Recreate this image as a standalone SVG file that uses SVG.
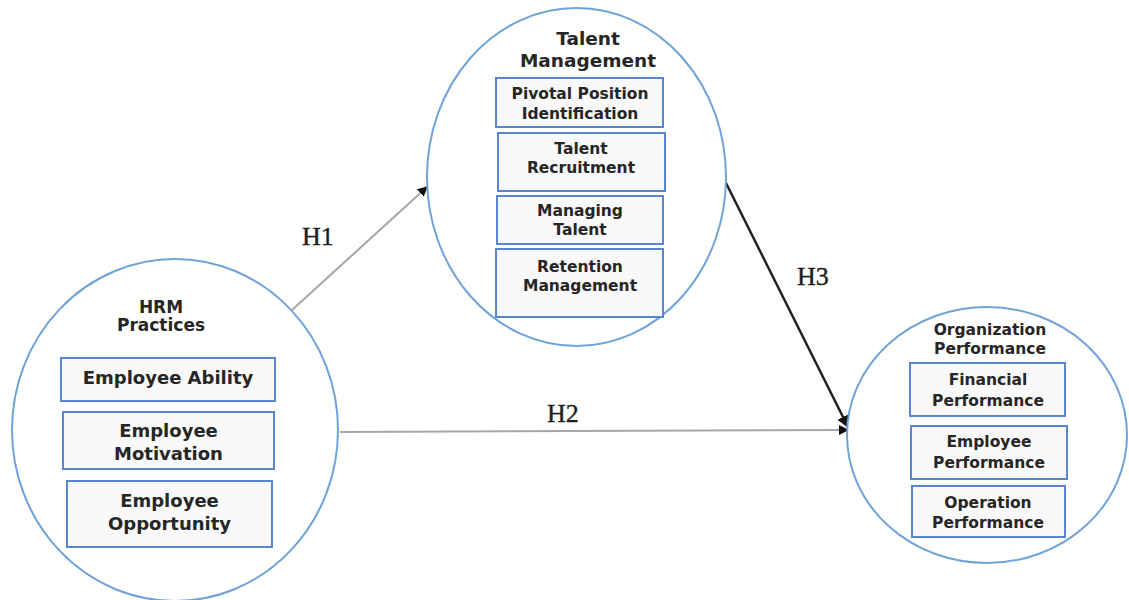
<svg xmlns="http://www.w3.org/2000/svg" width="1129" height="600" viewBox="0 0 1129 600">
  <style>
    .ring { fill: #ffffff; stroke: #6fa3d8; stroke-width: 2; }
    .box { fill: #f9f9f9; stroke: #5a86cc; stroke-width: 2; }
    .ttl { font-family: "DejaVu Sans", Verdana, sans-serif; font-weight: bold; fill: #262626; text-anchor: middle; }
    .itm { font-family: "DejaVu Sans", Verdana, sans-serif; font-weight: bold; fill: #262626; text-anchor: middle; }
    .hyp { font-family: "Liberation Serif", "Times New Roman", serif; font-size: 26px; fill: #1f1f1f; stroke: #1f1f1f; stroke-width: 0.4; }
    .thin { stroke: #a6a6a6; stroke-width: 2; fill: none; }
    .bold { stroke: #222222; stroke-width: 2.5; fill: none; }
  </style>
  <defs>
    <marker id="tip" viewBox="0 0 10 10" refX="9" refY="5" markerWidth="10" markerHeight="10" markerUnits="userSpaceOnUse" orient="auto">
      <path d="M0,0 L10,5 L0,10 z" fill="#111111"/>
    </marker>
    <marker id="tipBold" viewBox="0 0 10 10" refX="9" refY="5" markerWidth="5" markerHeight="5" orient="auto">
      <path d="M0,0 L10,5 L0,10 z" fill="#111111"/>
    </marker>
  </defs>

  <rect width="1129" height="600" fill="#ffffff"/>

  <!-- connectors -->
  <g id="connectors">
    <line class="thin" x1="292" y1="310" x2="427" y2="187" marker-end="url(#tip)"/>
    <line class="thin" x1="340" y1="432" x2="848" y2="430" marker-end="url(#tip)"/>
    <line class="bold" x1="726" y1="183" x2="848" y2="427" marker-end="url(#tipBold)"/>
    <text class="hyp" x="302" y="245">H1</text>
    <text class="hyp" x="547" y="422">H2</text>
    <text class="hyp" x="797" y="285">H3</text>
  </g>

  <!-- HRM practices -->
  <g id="hrm">
    <ellipse class="ring" cx="175" cy="430" rx="163" ry="171"/>
    <text class="ttl" font-size="17" x="161" y="313">HRM</text>
    <text class="ttl" font-size="17" x="161" y="331">Practices</text>
    <rect class="box" x="61" y="358" width="214" height="43"/>
    <text class="itm" font-size="18" x="168" y="384">Employee Ability</text>
    <rect class="box" x="63" y="412" width="211" height="57"/>
    <text class="itm" font-size="18" x="168.5" y="437">Employee</text>
    <text class="itm" font-size="18" x="168.5" y="460">Motivation</text>
    <rect class="box" x="67" y="481" width="205" height="66"/>
    <text class="itm" font-size="18" x="169.5" y="507">Employee</text>
    <text class="itm" font-size="18" x="169.5" y="530">Opportunity</text>
  </g>

  <!-- talent management -->
  <g id="talent">
    <ellipse class="ring" cx="576.5" cy="177" rx="149.5" ry="169"/>
    <text class="ttl" font-size="18.5" x="588" y="45">Talent</text>
    <text class="ttl" font-size="18.5" x="588" y="67">Management</text>
    <rect class="box" x="496" y="78" width="167" height="49"/>
    <text class="itm" font-size="15.5" x="580" y="99">Pivotal Position</text>
    <text class="itm" font-size="15.5" x="580" y="119">Identification</text>
    <rect class="box" x="498" y="133" width="167" height="58"/>
    <text class="itm" font-size="15.5" x="581" y="154">Talent</text>
    <text class="itm" font-size="15.5" x="581" y="173">Recruitment</text>
    <rect class="box" x="497" y="196" width="166" height="48"/>
    <text class="itm" font-size="15.5" x="580" y="216">Managing</text>
    <text class="itm" font-size="15.5" x="580" y="235">Talent</text>
    <rect class="box" x="496" y="249" width="167" height="68"/>
    <text class="itm" font-size="15.5" x="580" y="272">Retention</text>
    <text class="itm" font-size="15.5" x="580" y="291">Management</text>
  </g>

  <!-- organization performance -->
  <g id="organization">
    <ellipse class="ring" cx="987" cy="435" rx="140" ry="128"/>
    <text class="ttl" font-size="15.5" x="990" y="335">Organization</text>
    <text class="ttl" font-size="15.5" x="990" y="354">Performance</text>
    <rect class="box" x="910" y="363" width="155" height="53"/>
    <text class="itm" font-size="15.5" x="988" y="385">Financial</text>
    <text class="itm" font-size="15.5" x="988" y="406">Performance</text>
    <rect class="box" x="911" y="426" width="156" height="53"/>
    <text class="itm" font-size="15.5" x="989" y="447">Employee</text>
    <text class="itm" font-size="15.5" x="989" y="468">Performance</text>
    <rect class="box" x="912" y="486" width="153" height="51"/>
    <text class="itm" font-size="15.5" x="988" y="508">Operation</text>
    <text class="itm" font-size="15.5" x="988" y="528">Performance</text>
  </g>
</svg>
